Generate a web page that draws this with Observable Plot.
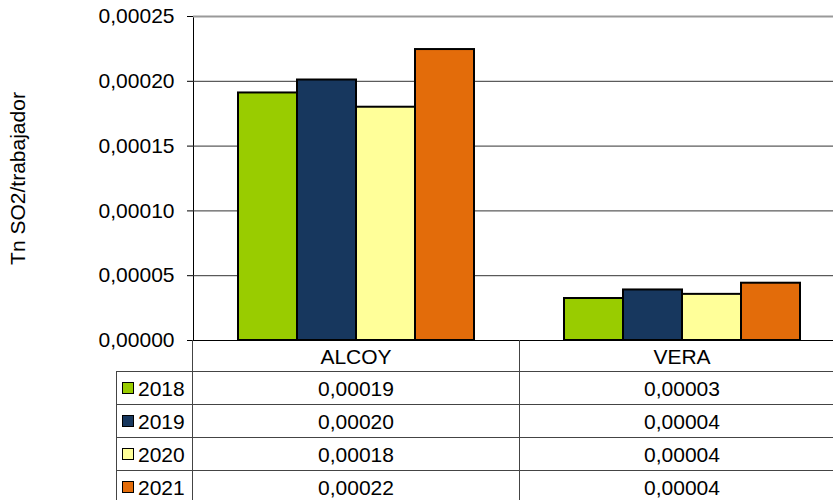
<!DOCTYPE html>
<html>
<head>
<meta charset="utf-8">
<script src="https://cdn.jsdelivr.net/npm/d3@7"></script>
<script src="https://cdn.jsdelivr.net/npm/@observablehq/plot@0.6"></script>
<style>
  html, body { margin: 0; padding: 0; background: #fff; }
  #wrap { position: relative; width: 833px; height: 500px; overflow: hidden; font-family: 'Liberation Sans', Arial, sans-serif; }
  #wrap svg { position: absolute; left: 0; top: 0; max-width: none !important; }
  .ln { position: absolute; background: #444; }
  .tx { position: absolute; font-size: 21px; line-height: 1; color: #000; white-space: nowrap; }
  .sw { position: absolute; width: 10px; height: 10px; border: 1px solid #000; }
</style>
</head>
<body>
<div id="wrap"></div>
<script>
const cities = ["ALCOY", "VERA"];
const years = ["2018", "2019", "2020", "2021"];
const alcoyValues = [0.000191, 0.000201, 0.000180, 0.0002245];
const veraValues = [0.0000324, 0.000039, 0.0000356, 0.0000442];
const yearColors = ["#99CC00", "#17375E", "#FFFF99", "#E36C0A"];
const yTicks = [0, 0.00005, 0.0001, 0.00015, 0.0002, 0.00025];
const yLabel = "Tn SO2/trabajador";

const fmt = d => d3.format(".5f")(d).replace(".", ",");

const seriesByCity = {ALCOY: alcoyValues, VERA: veraValues};
const data = [];
cities.forEach(c => years.forEach((y, i) => data.push({city: c, year: y, value: seriesByCity[c][i]})));

const chart = Plot.plot({
  width: 845,
  height: 342,
  marginLeft: 192,
  marginRight: 0,
  marginTop: 16,
  marginBottom: 2,
  style: {fontFamily: "'Liberation Sans', Arial, sans-serif", fontSize: "21px", color: "#000", background: "transparent", overflow: "visible", maxWidth: "none"},
  fx: {domain: cities, padding: 0, axis: null},
  x: {domain: years, paddingInner: 0, paddingOuter: 0.75, axis: null},
  y: {domain: [0, 0.00025], ticks: yTicks, tickFormat: fmt, tickSize: 6, tickPadding: 13, line: true,
      label: yLabel, labelAnchor: "center", labelOffset: 183, labelArrow: "none"},
  color: {domain: years, range: yearColors},
  marks: [
    Plot.ruleY(yTicks.slice(1, -1), {stroke: "#333"}),
    Plot.ruleY([0.00025], {stroke: "#999", strokeWidth: 2}),
    Plot.barY(data, {fx: "city", x: "year", y: "value", fill: "year", stroke: "#000", strokeWidth: 2}),
    Plot.ruleY([0], {stroke: "#000"})
  ]
});

const wrap = d3.select("#wrap");
wrap.node().appendChild(chart);

// data table below the chart
let fxs = null;
try { fxs = chart.scale("fx"); } catch (e) { fxs = null; }
const colLeft = c => fxs ? fxs.apply(c) : 192 + cities.indexOf(c) * 326.5;
const bw = fxs ? fxs.bandwidth : 326.5;

const top0 = 340;
const rowTops = [371, 404, 437, 470];
const rowH = 33;

function hline(x1, x2, y) { wrap.append("div").attr("class", "ln").style("left", x1 + "px").style("top", y + "px").style("width", (x2 - x1) + "px").style("height", "1px"); }
function vline(x, y1, y2) { wrap.append("div").attr("class", "ln").style("left", x + "px").style("top", y1 + "px").style("width", "1px").style("height", (y2 - y1) + "px"); }
function text(str, cx, cy, anchor) {
  const t = wrap.append("div").attr("class", "tx").text(str).style("top", (cy - 10) + "px");
  if (anchor === "middle") t.style("left", (cx - 200) + "px").style("width", "400px").style("text-align", "center");
  else t.style("left", cx + "px");
}

rowTops.forEach(y => hline(116, 845, y));
vline(116, 371, 500);
vline(192, top0, 500);
cities.forEach((c, i) => { if (i > 0) vline(Math.round(colLeft(c)), top0, 500); });

cities.forEach(c => text(c, colLeft(c) + bw / 2, top0 + 16, "middle"));
years.forEach((y, r) => {
  const cy = rowTops[r] + rowH / 2;
  wrap.append("div").attr("class", "sw").style("left", "122px").style("top", (cy - 6) + "px").style("background", yearColors[r]);
  text(y, 138, cy);
  cities.forEach(c => text(fmt(seriesByCity[c][r]), colLeft(c) + bw / 2, cy, "middle"));
});
</script>
</body>
</html>
